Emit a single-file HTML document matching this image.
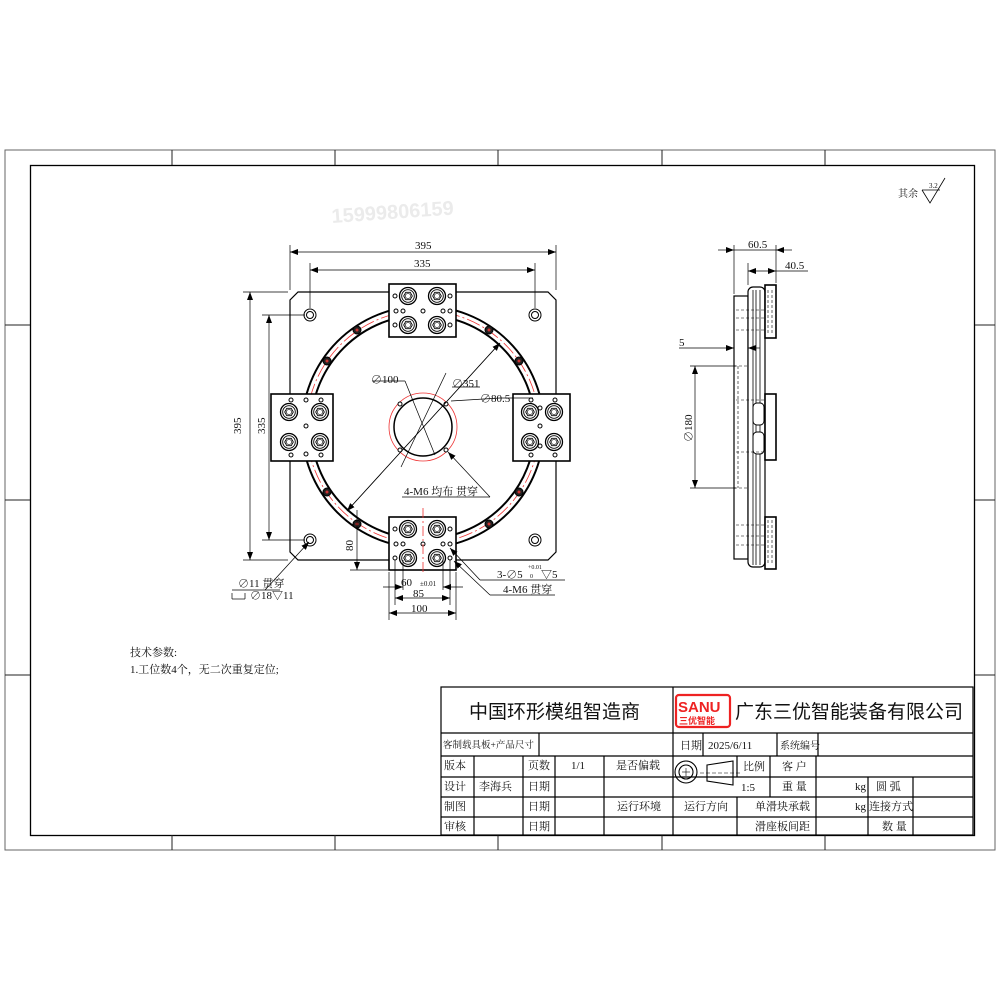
<!DOCTYPE html>
<html><head><meta charset="utf-8"><style>
html,body{margin:0;padding:0;background:#fff;width:1000px;height:1000px;overflow:hidden}
svg{display:block}
text{font-family:"Liberation Serif","Noto Serif CJK SC",serif;fill:#111}
.s{font-family:"Liberation Sans","Noto Sans CJK SC",sans-serif}
</style></head><body>
<svg width="1000" height="1000" viewBox="0 0 1000 1000" xmlns="http://www.w3.org/2000/svg">
<defs>
<marker id="a" markerWidth="8" markerHeight="6" refX="8" refY="3" orient="auto-start-reverse" markerUnits="userSpaceOnUse"><path d="M0,0L8,3L0,6z" fill="#000"/></marker>
<g id="nut"><circle r="8.5" fill="none" stroke="#000" stroke-width="1.3"/><circle r="6.3" fill="none" stroke="#000" stroke-width="0.9"/><polygon points="4.3,0 2.2,3.7 -2.2,3.7 -4.3,0 -2.2,-3.7 2.2,-3.7" fill="none" stroke="#000" stroke-width="0.9"/><circle r="2.6" fill="none" stroke="#000" stroke-width="0.6"/></g>
<g id="sh"><circle r="2" fill="#fff" stroke="#000" stroke-width="1"/></g>
<g id="ch"><circle r="6" fill="none" stroke="#000" stroke-width="1"/><circle r="3.5" fill="none" stroke="#000" stroke-width="1"/></g>
<g id="bh"><circle r="4" fill="#222" stroke="#000"/><circle r="1.5" fill="#c33"/></g>
</defs>
<rect x="5" y="150" width="990" height="700" fill="none" stroke="#666" stroke-width="1"/>
<rect x="30.5" y="165.5" width="944" height="670" fill="none" stroke="#000" stroke-width="1.3"/>
<g stroke="#222" stroke-width="1">
<line x1="172" y1="150" x2="172" y2="165"/><line x1="335" y1="150" x2="335" y2="165"/><line x1="498" y1="150" x2="498" y2="165"/><line x1="662" y1="150" x2="662" y2="165"/><line x1="825" y1="150" x2="825" y2="165"/>
<line x1="172" y1="835" x2="172" y2="850"/><line x1="335" y1="835" x2="335" y2="850"/><line x1="498" y1="835" x2="498" y2="850"/><line x1="662" y1="835" x2="662" y2="850"/><line x1="825" y1="835" x2="825" y2="850"/>
<line x1="5" y1="325" x2="30" y2="325"/><line x1="5" y1="500" x2="30" y2="500"/><line x1="5" y1="675" x2="30" y2="675"/>
<line x1="975" y1="325" x2="995" y2="325"/><line x1="975" y1="500" x2="995" y2="500"/><line x1="975" y1="675" x2="995" y2="675"/>
</g>
<text x="332" y="223" font-size="20" font-weight="bold" class="s" style="fill:#ebebeb" transform="rotate(-4 332 223)">15999806159</text>
<text x="898" y="197" font-size="10">其余</text>
<path d="M922,190 L930,203 L945,178" fill="none" stroke="#000" stroke-width="0.8"/><line x1="922" y1="190" x2="940" y2="190" stroke="#000" stroke-width="0.8"/><text x="929" y="188" font-size="7">3.2</text>

<path d="M298,292 L548,292 L556,300 L556,552 L548,560 L298,560 L290,552 L290,300 Z" fill="none" stroke="#000" stroke-width="1.2"/>
<circle cx="423" cy="427" r="121" fill="none" stroke="#000" stroke-width="2"/>
<circle cx="423" cy="427" r="112" fill="none" stroke="#000" stroke-width="2"/>
<circle cx="423" cy="427" r="116.5" fill="none" stroke="#e33" stroke-width="0.8" stroke-dasharray="14,3,2,3"/>
<circle cx="423" cy="427" r="34" fill="none" stroke="#e33" stroke-width="0.8"/>
<circle cx="423" cy="427" r="29" fill="#fff" stroke="#000" stroke-width="1.5"/>
<g>
<use href="#sh" x="400" y="404"/><use href="#sh" x="446" y="404"/><use href="#sh" x="400" y="450"/><use href="#sh" x="446" y="450"/>
<use href="#bh" x="357" y="330"/><use href="#bh" x="489" y="330"/><use href="#bh" x="327" y="361"/><use href="#bh" x="519" y="361"/>
<use href="#bh" x="327" y="492"/><use href="#bh" x="519" y="492"/><use href="#bh" x="357" y="524"/><use href="#bh" x="489" y="524"/>
<use href="#ch" x="310" y="315"/><use href="#ch" x="535" y="315"/><use href="#ch" x="310" y="540"/><use href="#ch" x="535" y="540"/>
</g>
<g fill="#fff" stroke="#000" stroke-width="1.6">
<rect x="389" y="284" width="67" height="53"/><rect x="389" y="517" width="67" height="53"/>
<rect x="271" y="394" width="62" height="67"/><rect x="513" y="394" width="57" height="67"/>
</g>
<g>
<use href="#nut" x="408" y="296"/><use href="#nut" x="437" y="296"/><use href="#nut" x="408" y="325"/><use href="#nut" x="437" y="325"/>
<use href="#nut" x="408" y="529"/><use href="#nut" x="437" y="529"/><use href="#nut" x="408" y="558"/><use href="#nut" x="437" y="558"/>
<use href="#nut" x="289" y="412"/><use href="#nut" x="320" y="412"/><use href="#nut" x="289" y="442"/><use href="#nut" x="320" y="442"/>
<use href="#nut" x="530" y="412"/><use href="#nut" x="554" y="412"/><use href="#nut" x="530" y="442"/><use href="#nut" x="554" y="442"/>
<use href="#sh" x="395" y="296"/><use href="#sh" x="450" y="296"/><use href="#sh" x="395" y="325"/><use href="#sh" x="450" y="325"/>
<use href="#sh" x="396" y="311"/><use href="#sh" x="403" y="311"/><use href="#sh" x="423" y="311"/><use href="#sh" x="443" y="311"/><use href="#sh" x="450" y="311"/>
<use href="#sh" x="395" y="529"/><use href="#sh" x="450" y="529"/><use href="#sh" x="395" y="558"/><use href="#sh" x="450" y="558"/>
<use href="#sh" x="396" y="544"/><use href="#sh" x="403" y="544"/><use href="#sh" x="423" y="544"/><use href="#sh" x="443" y="544"/><use href="#sh" x="450" y="544"/>
<use href="#sh" x="291" y="400"/><use href="#sh" x="321" y="400"/><use href="#sh" x="306" y="400"/><use href="#sh" x="306" y="426"/><use href="#sh" x="306" y="454"/><use href="#sh" x="291" y="455"/><use href="#sh" x="321" y="455"/>
<use href="#sh" x="531" y="400"/><use href="#sh" x="555" y="400"/><use href="#sh" x="540" y="408"/><use href="#sh" x="540" y="426"/><use href="#sh" x="540" y="446"/><use href="#sh" x="531" y="455"/><use href="#sh" x="555" y="455"/>
</g>
<line x1="423" y1="508" x2="423" y2="575" stroke="#e33" stroke-width="0.8" stroke-dasharray="10,3,2,3"/>
<g stroke="#000" stroke-width="0.7" fill="none">
<line x1="347" y1="511" x2="500" y2="343" marker-end="url(#a)"/><line x1="500" y1="343" x2="347" y2="511" marker-end="url(#a)"/>
<line x1="372" y1="381" x2="405" y2="381"/><line x1="405" y1="381" x2="435" y2="455"/>
<line x1="452" y1="387" x2="480" y2="387"/>
<line x1="401" y1="467" x2="446" y2="373"/>
<line x1="451" y1="401" x2="500" y2="398"/><line x1="500" y1="398" x2="533" y2="398"/>
<line x1="402" y1="497" x2="490" y2="497"/><line x1="490" y1="497" x2="448" y2="452" marker-end="url(#a)"/>
<line x1="232" y1="590" x2="280" y2="590"/><line x1="265" y1="590" x2="309" y2="542" marker-end="url(#a)"/>
<line x1="480" y1="580" x2="565" y2="580"/><line x1="480" y1="580" x2="450" y2="548" marker-end="url(#a)"/>
<line x1="490" y1="595" x2="555" y2="595"/><line x1="490" y1="595" x2="454" y2="561" marker-end="url(#a)"/>
<line x1="290" y1="290" x2="290" y2="245"/><line x1="556" y1="290" x2="556" y2="245"/>
<line x1="290" y1="252" x2="556" y2="252" marker-start="url(#a)" marker-end="url(#a)"/>
<line x1="310" y1="308" x2="310" y2="263"/><line x1="535" y1="308" x2="535" y2="263"/>
<line x1="310" y1="270" x2="535" y2="270" marker-start="url(#a)" marker-end="url(#a)"/>
<line x1="288" y1="292" x2="243" y2="292"/><line x1="288" y1="560" x2="243" y2="560"/>
<line x1="250" y1="292" x2="250" y2="560" marker-start="url(#a)" marker-end="url(#a)"/>
<line x1="305" y1="315" x2="262" y2="315"/><line x1="305" y1="540" x2="262" y2="540"/>
<line x1="269" y1="315" x2="269" y2="540" marker-start="url(#a)" marker-end="url(#a)"/>
<line x1="388" y1="570" x2="350" y2="570"/><line x1="357" y1="570" x2="357" y2="510" marker-start="url(#a)"/>
<line x1="389" y1="572" x2="389" y2="620"/><line x1="456" y1="572" x2="456" y2="620"/>
<line x1="389" y1="613" x2="456" y2="613" marker-start="url(#a)" marker-end="url(#a)"/>
<line x1="395" y1="560" x2="395" y2="605"/><line x1="450" y1="560" x2="450" y2="605"/>
<line x1="395" y1="598" x2="450" y2="598" marker-start="url(#a)" marker-end="url(#a)"/>
<line x1="403" y1="560" x2="403" y2="590"/><line x1="443" y1="560" x2="443" y2="590"/>
<line x1="383" y1="587" x2="403" y2="587" marker-end="url(#a)"/><line x1="463" y1="587" x2="443" y2="587" marker-end="url(#a)"/>
<line x1="232" y1="599" x2="232" y2="593"/><line x1="232" y1="599" x2="245" y2="599"/><line x1="245" y1="599" x2="245" y2="593"/>
</g>
<g font-size="11">
<text x="415" y="249">395</text><text x="414" y="267">335</text>
<text x="241" y="434" transform="rotate(-90 241 434)">395</text>
<text x="265" y="434" transform="rotate(-90 265 434)">335</text>
<text x="353" y="551" transform="rotate(-90 353 551)">80</text>
<text x="371" y="383">∅100</text><text x="452" y="387">∅351</text><text x="480" y="402">∅80.5</text>
<text x="404" y="495">4-M6 均布  贯穿</text>
<text x="238" y="587">∅11 贯穿</text><text x="250" y="599">∅18▽11</text>
<text x="401" y="586">60</text><text x="420" y="586" font-size="7">±0.01</text>
<text x="413" y="597">85</text><text x="411" y="612">100</text>
<text x="497" y="578">3-∅5</text><text x="528" y="569" font-size="6">+0.01</text><text x="530" y="578" font-size="6">0</text><text x="541" y="578">▽5</text>
<text x="503" y="593">4-M6 贯穿</text>
</g>

<g stroke="#000" fill="#fff">
<rect x="734" y="296" width="14" height="263" stroke-width="1.2"/>
<rect x="748" y="287" width="17" height="280" rx="5" stroke-width="1.2"/>
<line x1="753" y1="290" x2="753" y2="565" stroke-width="0.8"/><line x1="756" y1="290" x2="756" y2="565" stroke-width="0.8"/><line x1="760" y1="290" x2="760" y2="565" stroke-width="0.8"/>
<rect x="765" y="285" width="11" height="53" stroke-width="1.6"/>
<rect x="765" y="394" width="11" height="66" stroke-width="1.6"/>
<rect x="765" y="517" width="11" height="52" stroke-width="1.6"/>
<rect x="753" y="403" width="11" height="22" rx="4" stroke-width="1"/><rect x="753" y="432" width="11" height="22" rx="4" stroke-width="1"/>
</g>
<g stroke="#000" stroke-width="0.6" stroke-dasharray="3,2" fill="none">
<line x1="738" y1="366" x2="738" y2="488"/><line x1="734" y1="366" x2="748" y2="366"/><line x1="734" y1="488" x2="748" y2="488"/>
<line x1="736" y1="310" x2="765" y2="310"/><line x1="736" y1="318" x2="765" y2="318"/><line x1="736" y1="330" x2="765" y2="330"/><line x1="736" y1="400" x2="765" y2="400"/><line x1="736" y1="452" x2="765" y2="452"/><line x1="736" y1="525" x2="765" y2="525"/><line x1="736" y1="536" x2="765" y2="536"/><line x1="736" y1="545" x2="765" y2="545"/>
<line x1="768" y1="290" x2="768" y2="335"/><line x1="772" y1="290" x2="772" y2="335"/><line x1="768" y1="520" x2="768" y2="565"/><line x1="772" y1="520" x2="772" y2="565"/>
</g>
<g stroke="#000" stroke-width="0.7" fill="none">
<line x1="734" y1="294" x2="734" y2="245"/><line x1="776" y1="283" x2="776" y2="245"/><line x1="748" y1="285" x2="748" y2="263"/>
<line x1="718" y1="250" x2="734" y2="250" marker-end="url(#a)"/><line x1="734" y1="250" x2="776" y2="250"/><line x1="792" y1="250" x2="776" y2="250" marker-end="url(#a)"/>
<line x1="748" y1="271" x2="776" y2="271" marker-start="url(#a)" marker-end="url(#a)"/><line x1="776" y1="271" x2="808" y2="271"/>
<line x1="679" y1="348" x2="734" y2="348" marker-end="url(#a)"/><line x1="760" y1="348" x2="748" y2="348" marker-end="url(#a)"/>
<line x1="690" y1="366" x2="736" y2="366"/><line x1="690" y1="488" x2="736" y2="488"/>
<line x1="695" y1="366" x2="695" y2="488" marker-start="url(#a)" marker-end="url(#a)"/>
</g>
<g font-size="11"><text x="748" y="248">60.5</text><text x="785" y="269">40.5</text><text x="679" y="346">5</text>
<text x="692" y="442" transform="rotate(-90 692 442)">∅180</text></g>

<text x="130" y="656" font-size="11">技术参数:</text>
<text x="130" y="673" font-size="11">1.工位数4个，无二次重复定位;</text>

<g stroke="#000" stroke-width="1.2" fill="none">
<rect x="441" y="687" width="532" height="148"/>
<line x1="441" y1="733" x2="973" y2="733"/><line x1="441" y1="756" x2="973" y2="756"/>
<line x1="441" y1="777" x2="973" y2="777"/><line x1="441" y1="797" x2="973" y2="797"/><line x1="441" y1="817" x2="973" y2="817"/>
<line x1="673" y1="687" x2="673" y2="835"/>
<line x1="539" y1="733" x2="539" y2="756"/><line x1="703" y1="733" x2="703" y2="756"/><line x1="777" y1="733" x2="777" y2="756"/><line x1="818" y1="733" x2="818" y2="756"/>
<line x1="474" y1="756" x2="474" y2="835"/><line x1="523" y1="756" x2="523" y2="835"/><line x1="555" y1="756" x2="555" y2="835"/><line x1="604" y1="756" x2="604" y2="835"/>
<line x1="737" y1="756" x2="737" y2="777"/><line x1="737" y1="797" x2="737" y2="835"/><line x1="770" y1="756" x2="770" y2="797"/><line x1="816" y1="756" x2="816" y2="835"/>
<line x1="868" y1="777" x2="868" y2="835"/><line x1="913" y1="777" x2="913" y2="835"/>
</g>
<g stroke="#000" stroke-width="1.1" fill="none">
<circle cx="686" cy="772" r="11"/><circle cx="686" cy="772" r="7"/>
<line x1="682" y1="772" x2="690" y2="772" stroke-width="0.6"/><line x1="686" y1="768" x2="686" y2="776" stroke-width="0.6"/>
<path d="M707,765 L733,761 L733,785 L707,781 Z"/>
<line x1="700" y1="773" x2="740" y2="773" stroke-width="0.6" stroke-dasharray="4,2"/>
</g>
<text x="469" y="718" font-size="19" class="s">中国环形模组智造商</text>
<rect x="676" y="695" width="54" height="32" rx="3" fill="#fff" stroke="#e22" stroke-width="2.2"/>
<text x="678" y="712" font-size="15" font-weight="bold" class="s" style="fill:#e22">SANU</text>
<text x="679" y="724" font-size="9" font-weight="bold" class="s" style="fill:#e22">三优智能</text>
<text x="735" y="718" font-size="19" class="s">广东三优智能装备有限公司</text>
<g font-size="11">
<text x="443" y="748" font-size="9.5">客制载具板+产品尺寸</text><text x="680" y="749">日期</text><text x="708" y="749">2025/6/11</text><text x="780" y="749" font-size="10">系统编号</text>
<text x="444" y="769">版本</text><text x="528" y="769">页数</text><text x="571" y="769">1/1</text><text x="616" y="769">是否偏载</text><text x="743" y="770">比例</text><text x="782" y="770">客  户</text>
<text x="444" y="790">设计</text><text x="479" y="790">李海兵</text><text x="528" y="790">日期</text><text x="741" y="791">1:5</text><text x="782" y="790">重  量</text><text x="855" y="790">kg</text><text x="876" y="790">圆  弧</text>
<text x="444" y="810">制图</text><text x="528" y="810">日期</text><text x="617" y="810">运行环境</text><text x="684" y="810">运行方向</text><text x="755" y="810">单滑块承载</text><text x="855" y="810">kg</text><text x="869" y="810">连接方式</text>
<text x="444" y="830">审核</text><text x="528" y="830">日期</text><text x="755" y="830">滑座板间距</text><text x="882" y="830">数  量</text>
</g>
</svg>
</body></html>
